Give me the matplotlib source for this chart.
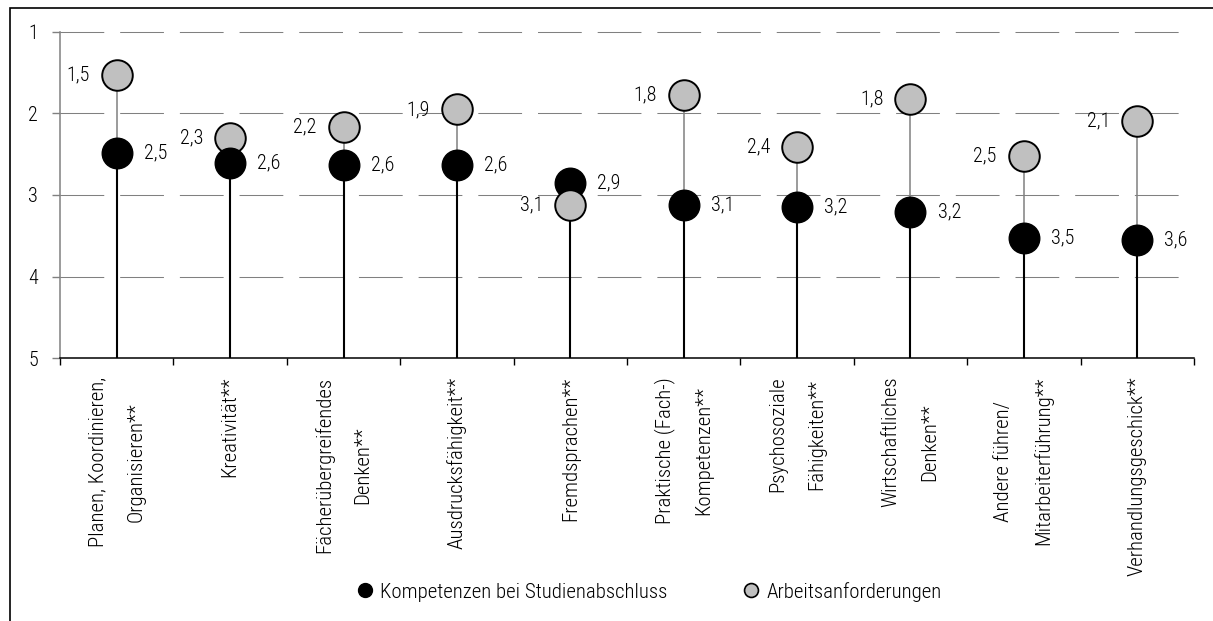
import numpy as np
import matplotlib
matplotlib.use("Agg")
import matplotlib.pyplot as plt
from matplotlib.lines import Line2D
from matplotlib.patches import Rectangle

plt.rcParams['font.family'] = ['Roboto Condensed', 'Liberation Sans Narrow', 'Liberation Sans', 'DejaVu Sans']
plt.rcParams['font.weight'] = 'light'

# Daten
kategorien = [
    "Planen, Koordinieren,\nOrganisieren**",
    "Kreativität**",
    "Fächerübergreifendes\nDenken**",
    "Ausdrucksfähigkeit**",
    "Fremdsprachen**",
    "Praktische (Fach-)\nKompetenzen**",
    "Psychosoziale\nFähigkeiten**",
    "Wirtschaftliches\nDenken**",
    "Andere führen/\nMitarbeiterführung**",
    "Verhandlungsgeschick**",
]
kompetenzen = [2.48, 2.61, 2.63, 2.63, 2.85, 3.12, 3.15, 3.21, 3.53, 3.55]
anforderungen = [1.53, 2.30, 2.17, 1.95, 3.12, 1.77, 2.41, 1.82, 2.52, 2.09]
kompetenzen_label = ["2,5", "2,6", "2,6", "2,6", "2,9", "3,1", "3,2", "3,2", "3,5", "3,6"]
anforderungen_label = ["1,5", "2,3", "2,2", "1,9", "3,1", "1,8", "2,4", "1,8", "2,5", "2,1"]
y_ticks = [1, 2, 3, 4, 5]

GRAU = "#c0c0c0"
LINIE_GRAU = "#808080"
FS = 15

fig = plt.figure(figsize=(12.13, 6.21), dpi=100)
ax = fig.add_axes([0.0495, 0.4235, 0.9348, 0.525])

x = np.arange(len(kategorien)) + 0.5

# Gitterlinien gestrichelt
for yv in y_ticks[:-1]:
    gl = ax.axhline(yv, color=LINIE_GRAU, lw=0.75, zorder=0, clip_on=False)
    gl.set_dashes((42, 15.3))

for i in range(len(kategorien)):
    k = kompetenzen[i]
    a = anforderungen[i]
    unten = max(k, a)
    # schwarze Linie vom Boden bis zum unteren Punkt
    ax.plot([x[i], x[i]], [5, unten], color="black", lw=1.5, zorder=2)
    # graue Verbindungslinie zwischen den Punkten
    ax.plot([x[i], x[i]], [k, a], color=LINIE_GRAU, lw=1.1, zorder=2)
    # der untere Punkt liegt oben drauf
    zk = 4 if k >= a else 3
    za = 4 if a > k else 3
    ax.plot(x[i], k, "o", ms=22, mfc="black", mec="black", mew=1.0, zorder=zk)
    ax.plot(x[i], a, "o", ms=22, mfc=GRAU, mec="black", mew=1.4, zorder=za)
    ax.annotate(kompetenzen_label[i], (x[i], k), xytext=(19.5, 0), textcoords="offset points",
                ha="left", va="center", fontsize=14.5)
    ax.annotate(anforderungen_label[i], (x[i], a), xytext=(-19.5, 0), textcoords="offset points",
                ha="right", va="center", fontsize=14.5)

ax.set_xlim(0, len(kategorien))
ax.set_ylim(5, 1)
ax.set_yticks(y_ticks)
ax.set_yticklabels([str(v) for v in y_ticks], fontsize=14.5)
ax.tick_params(axis="y", direction="out", length=5.8, width=1, color=LINIE_GRAU, pad=10)

ax.set_xticks(np.arange(len(kategorien) + 1))
ax.set_xticklabels([])
ax.set_xticks(x, minor=True)
ax.set_xticklabels(kategorien, minor=True, rotation=90, fontsize=FS,
                   multialignment="center", linespacing=2.3)
ax.tick_params(axis="x", which="major", direction="out", length=5, width=1, color="black")
ax.tick_params(axis="x", which="minor", length=0, pad=13.5)

ax.spines["top"].set_visible(False)
ax.spines["right"].set_visible(False)
ax.spines["left"].set_color(LINIE_GRAU)
ax.spines["left"].set_linewidth(1.1)
ax.spines["bottom"].set_color("black")
ax.spines["bottom"].set_linewidth(1.1)

# Legende
handles = [
    Line2D([], [], marker="o", ls="", ms=10, mfc="black", mec="black"),
    Line2D([], [], marker="o", ls="", ms=10, mfc=GRAU, mec="black", mew=1.2),
]
fig.legend(handles, ["Kompetenzen bei Studienabschluss", "Arbeitsanforderungen"],
           loc="center", bbox_to_anchor=(0.535, 0.047), ncol=2, frameon=False,
           fontsize=FS, handletextpad=0.35, columnspacing=3.6, handlelength=0.8)

# Rahmen (rechts und unten abgeschnitten)
fig.patches.append(Rectangle((10 / 1213, -0.1), 1.2, 1 - 8 / 621 + 0.1,
                             transform=fig.transFigure, fill=False, ec="black", lw=1.2))

fig.savefig("out.png", dpi=100)
